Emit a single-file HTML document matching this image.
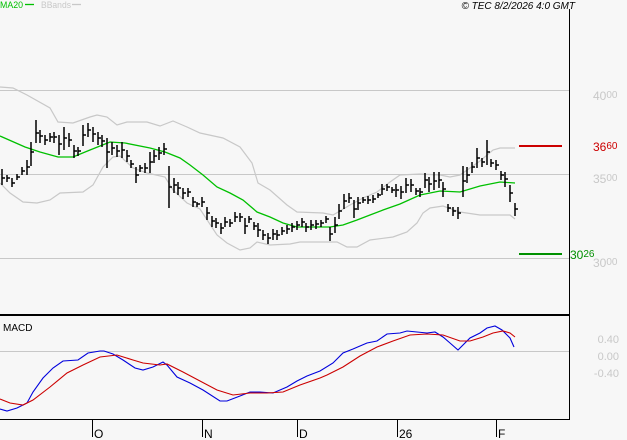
<!DOCTYPE html>
<html><head><meta charset="utf-8"><style>
html,body{margin:0;padding:0;background:#f7f7f7;}
svg{display:block;font-family:"Liberation Sans",sans-serif;}
</style></head><body>
<svg width="627" height="440" viewBox="0 0 627 440" xmlns="http://www.w3.org/2000/svg">
<rect width="627" height="440" fill="#f7f7f7"/>
<!-- header -->
<text x="0" y="8" font-size="9.5" fill="#00c000" textLength="23" lengthAdjust="spacingAndGlyphs">MA20</text>
<line x1="25" y1="4.5" x2="34" y2="4.5" stroke="#00c000" stroke-width="1.3"/>
<text x="41" y="8" font-size="9.5" fill="#c8c8c8" textLength="30" lengthAdjust="spacingAndGlyphs">BBands</text>
<line x1="72" y1="4.5" x2="81" y2="4.5" stroke="#c8c8c8" stroke-width="1.3"/>
<text x="575" y="9" font-size="10" font-style="italic" fill="#000" text-anchor="end">© TEC 8/2/2026 4:0 GMT</text>
<!-- grid -->
<g stroke="#c8c8c8" stroke-width="1" shape-rendering="crispEdges">
<line x1="0" y1="90.5" x2="569" y2="90.5"/>
<line x1="0" y1="174.5" x2="569" y2="174.5"/>
<line x1="0" y1="258.5" x2="569" y2="258.5"/>
<line x1="0" y1="351.5" x2="569" y2="351.5"/>
</g>
<!-- axes -->
<g shape-rendering="crispEdges">
<line x1="569.5" y1="9" x2="569.5" y2="420" stroke="#000" stroke-width="1"/>
<rect x="0" y="314" width="570" height="2" fill="#000"/>
<line x1="0" y1="419.5" x2="570" y2="419.5" stroke="#000" stroke-width="1"/>
<g stroke="#000" stroke-width="1">
<line x1="92.5" y1="419" x2="92.5" y2="437"/>
<line x1="202.5" y1="419" x2="202.5" y2="437"/>
<line x1="297.5" y1="419" x2="297.5" y2="437"/>
<line x1="397.5" y1="419" x2="397.5" y2="437"/>
<line x1="496.5" y1="419" x2="496.5" y2="437"/>
</g>
</g>
<g font-size="12" fill="#000">
<text x="94" y="438">O</text>
<text x="204" y="438">N</text>
<text x="299" y="438">D</text>
<text x="399" y="438">26</text>
<text x="498" y="438">F</text>
</g>
<!-- price labels -->
<g fill="#c8c8c8">
<text x="593" y="100" font-size="12">40<tspan font-size="10" dy="-2">00</tspan></text>
<text x="593" y="183" font-size="12">35<tspan font-size="10" dy="-2">00</tspan></text>
<text x="593" y="267" font-size="12">30<tspan font-size="10" dy="-2">00</tspan></text>
</g>
<text x="593" y="151" font-size="12" fill="#cc0000">36<tspan font-size="10" dy="-2">60</tspan></text>
<text x="570" y="259" font-size="12" fill="#009000">30<tspan font-size="10" dy="-2">26</tspan></text>
<rect x="519" y="145" width="43" height="2" fill="#cc0000"/>
<rect x="519" y="253" width="43" height="2" fill="#009000"/>
<!-- bollinger -->
<g fill="none" stroke="#c8c8c8" stroke-width="1.2">
<polyline points="0,87 13,88 27,95 50,108 58,122 73,123 90,117 97,115 107,117 117,125 127,122 147,122 160,126 173,121 187,127 200,133 223,138 240,147 252,163 258,183 270,190 287,205 297,212 323,213 333,215 340,211 350,205 363,198 377,192 390,182 400,175 420,174 440,175 450,177 460,175 470,168 480,161 493,150 500,148 515,148"/>
<polyline points="0,183 10,193 23,202 37,203 50,200 60,193 83,192 93,185 103,167 113,157 120,156 133,168 147,173 165,177 173,190 187,203 200,209 217,235 227,243 240,250 250,248 257,242 270,245 290,244 300,242 337,242 347,247 357,247 370,240 393,237 407,232 417,223 423,213 430,208 443,206 460,212 480,215 510,215 515,219"/>
</g>
<!-- MA20 -->
<polyline fill="none" stroke="#00c000" stroke-width="1.3" points="0,136 25,147 40,152 58,157 73,157 90,150 110,142 125,143 150,148 165,152 180,158 190,165 203,175 217,187 230,193 243,200 257,212 270,217 283,223 297,227 330,227 343,225 357,220 370,215 383,210 400,204 420,195 440,191 460,192 480,186 500,182 515,183"/>
<!-- bars -->
<path fill="none" stroke="#000" stroke-width="1.5" d="M2 169V185M2 178h3M7 175V182M7 178h3M12 178V187M12 183h3M17 174V180M17 177h3M22 167V175M22 171h3M27 160V175M27 167h3M31 142V166M31 152h3M36 120V143M36 133h3M40 130V143M40 136h3M45 135V145M45 140h3M50 133V142M50 137h3M54 132V143M54 137h3M59 135V155M59 144h3M64 127V150M64 138h3M69 133V147M69 140h3M74 145V158M74 151h3M78 147V156M78 151h3M83 125V146M83 135h3M88 123V137M88 130h3M93 127V142M93 134h3M98 132V145M98 138h3M102 135V147M102 141h3M107 138V168M107 152h3M112 142V155M112 148h3M117 145V157M117 151h3M122 142V158M122 150h3M127 150V162M127 156h3M131 160V168M131 164h3M136 167V183M136 175h3M140 165V172M140 168h3M145 163V173M145 168h3M150 152V173M150 162h3M154 150V163M154 156h3M159 147V160M159 153h3M164 143V155M164 149h3M169 166V208M169 187h3M174 178V193M174 185h3M178 182V195M178 188h3M183 188V199M183 193h3M188 188V197M188 192h3M193 197V207M193 202h3M197 202V207M197 204h3M202 197V207M202 202h3M207 207V220M207 213h3M212 216V227M212 221h3M216 218V228M216 223h3M221 223V234M221 228h3M225 217V227M225 222h3M230 219V227M230 223h3M235 212V222M235 217h3M240 213V222M240 217h3M245 218V234M245 226h3M249 216V223M249 219h3M254 222V230M254 226h3M258 223V237M258 230h3M263 230V240M263 235h3M268 233V244M268 238h3M273 229V240M273 234h3M277 230V240M277 235h3M282 227V235M282 231h3M287 225V234M287 229h3M292 223V232M292 227h3M297 221V230M297 225h3M302 218V227M302 222h3M306 223V232M306 227h3M311 220V230M311 225h3M316 220V229M316 224h3M321 220V227M321 223h3M326 216V223M326 219h3M330 227V241M330 234h3M335 217V233M335 225h3M339 204V219M339 211h3M344 194V209M344 201h3M349 193V203M349 198h3M354 200V218M354 209h3M358 197V210M358 203h3M363 197V203M363 200h3M368 196V204M368 200h3M373 195V203M373 199h3M378 193V198M378 195h3M382 184V195M382 189h3M387 184V191M387 187h3M392 187V193M392 190h3M396 184V197M396 190h3M401 186V199M401 192h3M406 178V193M406 185h3M411 179V192M411 185h3M416 188V195M416 191h3M420 188V197M420 192h3M425 173V188M425 180h3M429 177V192M429 184h3M434 172V190M434 181h3M439 172V188M439 180h3M443 182V197M443 189h3M448 204V212M448 208h3M453 207V216M453 211h3M458 207V219M458 213h3M463 166V197M463 181h3M467 167V183M467 175h3M472 162V173M472 167h3M477 148V168M477 158h3M482 158V167M482 162h3M487 140V165M487 152h3M491 159V167M491 163h3M496 160V170M496 165h3M501 171V180M501 175h3M505 172V187M505 179h3M510 185V202M510 193h3M515 203V216M515 209h3"/>
<!-- MACD panel -->
<text x="3" y="331" font-size="10" fill="#000">MACD</text>
<g fill="#c8c8c8" font-size="11" text-anchor="end">
<text x="619" y="343">0.40</text>
<text x="619" y="360">0.00</text>
<text x="619" y="377">-0.40</text>
</g>
<polyline fill="none" stroke="#0000dd" stroke-width="1.1" points="0,409 7,411 17,408 27,403 33,392 43,378 53,368 63,361 78,360 88,353 100,351 104,351 113,354 123,360 135,368 143,370 153,367 163,362 167,365 177,377 190,383 203,390 220,401 227,401 240,396 250,392 260,392 273,393 287,387 297,381 307,376 320,371 333,363 343,353 353,349 367,343 377,341 387,334 400,333 407,331 417,332 427,333 435,332 443,337 450,343 458,350 470,338 480,333 487,328 495,326 502,330 510,338 514,347"/>
<polyline fill="none" stroke="#cc0000" stroke-width="1.1" points="0,399 10,403 23,405 33,400 50,387 67,373 83,365 100,357 117,355 133,360 143,363 160,365 167,364 183,372 200,381 217,390 233,395 250,393 267,393 283,392 300,385 320,378 327,375 343,367 360,356 377,347 393,341 410,335 427,334 443,335 460,341 470,341 483,337 493,333 503,331 510,333 515,337"/>
</svg>
</body></html>
